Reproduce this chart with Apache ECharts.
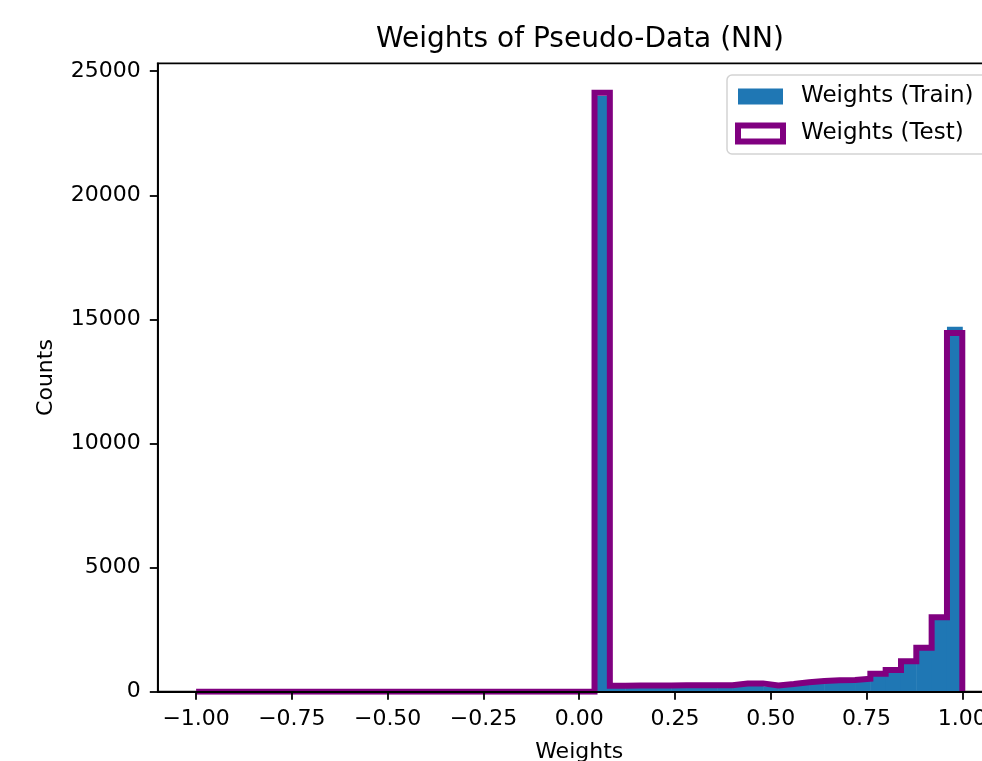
<!DOCTYPE html>
<html>
<head>
<meta charset="utf-8">
<script src="https://cdn.jsdelivr.net/npm/echarts@6/dist/echarts.min.js"></script>
<style>
html,body{margin:0;padding:0;background:#fff;}
#chart{width:982px;height:761px;}
</style>
</head>
<body>
<div id="chart"></div>
<script>
// ---- data ----
const binEdges = [
  -1.00,-0.96,-0.92,-0.88,-0.84,-0.80,-0.76,-0.72,-0.68,-0.64,
  -0.60,-0.56,-0.52,-0.48,-0.44,-0.40,-0.36,-0.32,-0.28,-0.24,
  -0.20,-0.16,-0.12,-0.08,-0.04, 0.00, 0.04, 0.08, 0.12, 0.16,
   0.20, 0.24, 0.28, 0.32, 0.36, 0.40, 0.44, 0.48, 0.52, 0.56,
   0.60, 0.64, 0.68, 0.72, 0.76, 0.80, 0.84, 0.88, 0.92, 0.96,
   1.00
];
const trainCounts = [
  0,0,0,0,0,0,0,0,0,0,
  0,0,0,0,0,0,0,0,0,0,
  0,0,0,0,0,0,
  24000, 190, 200, 205, 205, 210, 215, 220, 225, 270,
  280, 215, 260, 320, 380, 410, 420, 460, 650, 800,
  1150, 1690, 2920, 14700
];
const testCounts = [
  0,0,0,0,0,0,0,0,0,0,
  0,0,0,0,0,0,0,0,0,0,
  0,0,0,0,0,0,
  24130, 235, 245, 250, 250, 255, 255, 260, 260, 330,
  335, 255, 310, 380, 435, 465, 470, 520, 720, 870,
  1230, 1770, 3000, 14450
];
const xTickValues = [-1, -0.75, -0.5, -0.25, 0, 0.25, 0.5, 0.75, 1];
const yTickValues = [0, 5000, 10000, 15000, 20000, 25000];
const seriesNames = ['Weights (Train)', 'Weights (Test)'];
const chartTitle = 'Weights of Pseudo-Data (NN)';
const xName = 'Weights';
const yName = 'Counts';

// ---- build ----
const FONT = 'DejaVu Sans';
const trainData = trainCounts.map((c, i) => [binEdges[i], binEdges[i + 1], c]);
const testOutline = [[binEdges[0], 0]];
testCounts.forEach((c, i) => {
  testOutline.push([binEdges[i], c]);
  testOutline.push([binEdges[i + 1], c]);
});
testOutline.push([binEdges[binEdges.length - 1], 0]);

const chart = echarts.init(document.getElementById('chart'), null, {renderer: 'canvas'});
const axisText = {fontFamily: FONT, fontSize: 22, color: '#000'};

chart.setOption({
  animation: false,
  backgroundColor: '#fff',
  title: {
    text: chartTitle,
    left: 371, top: 21,
    textStyle: {fontFamily: FONT, fontSize: 28, fontWeight: 'normal', color: '#000'}
  },
  grid: {
    left: 157.8, top: 63.3, right: -18.6, bottom: 69.3,
    show: true, borderColor: '#000', borderWidth: 1.8, backgroundColor: 'transparent',
    containLabel: false, outerBoundsMode: 'none'
  },
  legend: {
    orient: 'vertical', left: 727, top: 75,
    data: [
      {name: seriesNames[0], icon: 'rect', itemStyle: {color: '#1f77b4', borderWidth: 0}},
      {name: seriesNames[1], icon: 'rect', itemStyle: {color: '#ffffff', borderColor: '#800080', borderWidth: 6}}
    ],
    itemWidth: 45, itemHeight: 16, itemGap: 14,
    padding: [10, 20, 9, 8],
    backgroundColor: 'rgba(255,255,255,0.8)', borderColor: '#d3d3d3', borderWidth: 1.5, borderRadius: 5,
    textStyle: {fontFamily: FONT, fontSize: 23, color: '#000', padding: [0, 0, 0, 13]},
    selectedMode: false
  },
  xAxis: {
    type: 'value', min: -1.1, max: 1.1, z: 5,
    axisLine: {show: true, onZero: false, lineStyle: {color: '#000', width: 1.8}},
    axisTick: {show: true, length: 8, customValues: xTickValues, lineStyle: {color: '#000', width: 1.8}},
    axisLabel: Object.assign({
      customValues: xTickValues, margin: 17,
      formatter: v => (v < 0 ? '\u2212' : '') + Math.abs(v).toFixed(2)
    }, axisText),
    splitLine: {show: false},
    name: xName, nameLocation: 'middle', nameGap: 50, nameTextStyle: axisText
  },
  yAxis: {
    type: 'value', min: 0, max: 25320, z: 5,
    axisLine: {show: true, onZero: false, lineStyle: {color: '#000', width: 1.8}},
    axisTick: {show: true, length: 8, customValues: yTickValues, lineStyle: {color: '#000', width: 1.8}},
    axisLabel: Object.assign({
      customValues: yTickValues, margin: 17,
      formatter: v => String(v)
    }, axisText),
    splitLine: {show: false},
    name: yName, nameLocation: 'middle', nameRotate: 90, nameGap: 101, nameTextStyle: axisText
  },
  series: [
    {
      name: seriesNames[0],
      type: 'custom',
      itemStyle: {color: '#1f77b4'},
      encode: {x: [0, 1], y: 2},
      clip: true,
      z: 2,
      data: trainData,
      renderItem: function (params, api) {
        const p0 = api.coord([api.value(0), 0]);
        const p1 = api.coord([api.value(1), api.value(2)]);
        return {
          type: 'rect',
          shape: {x: p0[0], y: p1[1], width: p1[0] - p0[0] + 0.5, height: p0[1] - p1[1]},
          style: {fill: '#1f77b4'}
        };
      }
    },
    {
      name: seriesNames[1],
      type: 'line',
      data: testOutline,
      symbol: 'none', showSymbol: false,
      clip: true,
      z: 3,
      itemStyle: {color: '#800080'},
      lineStyle: {color: '#800080', width: 6, join: 'miter', cap: 'butt'}
    }
  ]
});
</script>
</body>
</html>
